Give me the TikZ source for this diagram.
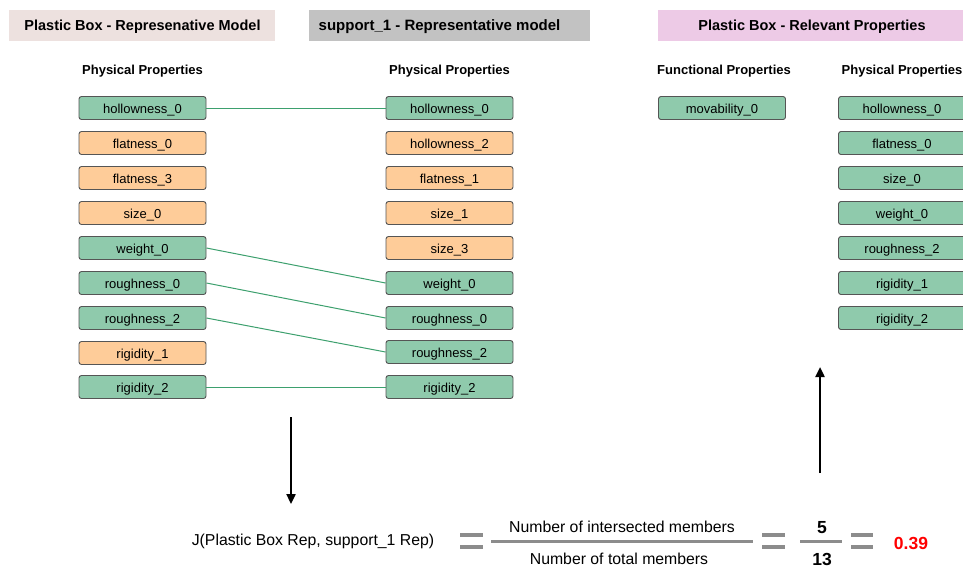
\documentclass[tikz,border=0pt]{standalone}
\usepackage{fontspec}
\setmainfont{Liberation Sans}
\usetikzlibrary{arrows.meta}
\definecolor{gfill}{HTML}{8FCAAC}
\definecolor{ofill}{HTML}{FECC99}
\definecolor{bord}{HTML}{555555}
\definecolor{link}{HTML}{3DA06E}
\definecolor{t1}{HTML}{EDE1DF}
\definecolor{t2}{HTML}{C2C2C2}
\definecolor{t3}{HTML}{EDCAE6}
\definecolor{eqc}{HTML}{8C8C8C}
\tikzset{
  prop/.style={draw=bord, line width=0.9pt, rounded corners=2.5pt, minimum width=127pt, minimum height=23pt, inner sep=0pt, text height=10pt, text depth=0pt, font=\fontsize{13}{15}\selectfont},
  gprop/.style={prop, fill=gfill},
  oprop/.style={prop, fill=ofill},
  titlebox/.style={minimum height=31pt, inner sep=0pt},
  ttl/.style={anchor=base, inner sep=0pt, font=\bfseries\fontsize{14.5}{16}\selectfont},
  hdr/.style={anchor=base, inner sep=0pt, font=\bfseries\fontsize{13}{15}\selectfont},
  lnk/.style={draw=link, line width=1pt},
  eqbar/.style={draw=eqc, line width=3.5pt},
  fracbar/.style={draw=eqc, line width=3pt},
  bigarrow/.style={draw=black, line width=2.3pt, -{Triangle[length=10pt,width=9pt]}},
  txt/.style={anchor=base, inner sep=0pt, font=\fontsize{15.8}{18}\selectfont},
  btxt/.style={anchor=base, inner sep=0pt, font=\bfseries\fontsize{17.5}{20}\selectfont}
}
\begin{document}
\begin{tikzpicture}[x=1pt,y=-1pt]
\clip (0,0) rectangle (963,568);
\fill[white] (0,0) rectangle (963,568);
% titles
\node[titlebox, fill=t1, minimum width=266pt] (T1) at (142,25.5) {};
\node[ttl] (T1t) at (142.5,30.5) {Plastic Box - Represenative Model};
\node[titlebox, fill=t2, minimum width=281pt] (T2) at (449.5,25.5) {};
\node[ttl, anchor=base west, font=\bfseries\fontsize{15}{17}\selectfont] (T2t) at (318.5,30.5) {support\_1 - Representative model};
\node[titlebox, fill=t3, minimum width=320pt] (T3) at (818,25.5) {};
\node[ttl] (T3t) at (812,30.5) {Plastic Box - Relevant Properties};
% headers
\node[hdr] (H1) at (142.5,74) {Physical Properties};
\node[hdr] (H2) at (449.5,74) {Physical Properties};
\node[hdr] (H3) at (724,74) {Functional Properties};
\node[hdr] (H4) at (902,74) {Physical Properties};
% left column
\node[gprop] (L1) at (142.5,108) {hollowness\_0};
\node[oprop] (L2) at (142.5,143) {flatness\_0};
\node[oprop] (L3) at (142.5,178) {flatness\_3};
\node[oprop] (L4) at (142.5,213) {size\_0};
\node[gprop] (L5) at (142.5,248) {weight\_0};
\node[gprop] (L6) at (142.5,283) {roughness\_0};
\node[gprop] (L7) at (142.5,318) {roughness\_2};
\node[oprop] (L8) at (142.5,353) {rigidity\_1};
\node[gprop] (L9) at (142.5,387) {rigidity\_2};
% middle column
\node[gprop] (M1) at (449.5,108) {hollowness\_0};
\node[oprop] (M2) at (449.5,143) {hollowness\_2};
\node[oprop] (M3) at (449.5,178) {flatness\_1};
\node[oprop] (M4) at (449.5,213) {size\_1};
\node[oprop] (M5) at (449.5,248) {size\_3};
\node[gprop] (M6) at (449.5,283) {weight\_0};
\node[gprop] (M7) at (449.5,318) {roughness\_0};
\node[gprop] (M8) at (449.5,352) {roughness\_2};
\node[gprop] (M9) at (449.5,387) {rigidity\_2};
% right
\node[gprop] (F1) at (722,108) {movability\_0};
\node[gprop] (R1) at (902,108) {hollowness\_0};
\node[gprop] (R2) at (902,143) {flatness\_0};
\node[gprop] (R3) at (902,178) {size\_0};
\node[gprop] (R4) at (902,213) {weight\_0};
\node[gprop] (R5) at (902,248) {roughness\_2};
\node[gprop] (R6) at (902,283) {rigidity\_1};
\node[gprop] (R7) at (902,318) {rigidity\_2};
% links
\draw[lnk] (L1.east) -- (M1.west);
\draw[lnk] (L5.east) -- (M6.west);
\draw[lnk] (L6.east) -- (M7.west);
\draw[lnk] (L7.east) -- (M8.west);
\draw[lnk] (L9.east) -- (M9.west);
% arrows
\coordinate (A1s) at (291,417);
\coordinate (A1e) at (291,504);
\draw[bigarrow] (A1s) -- (A1e);
\coordinate (A2s) at (820,473);
\coordinate (A2e) at (820,367);
\draw[bigarrow] (A2s) -- (A2e);
% formula
\node[txt] (J) at (313,545) {J(Plastic Box Rep, support\_1 Rep)};
\coordinate (E1a) at (460,535); \coordinate (E1b) at (483,535);
\coordinate (E1c) at (460,547); \coordinate (E1d) at (483,547);
\draw[eqbar] (E1a) -- (E1b); \draw[eqbar] (E1c) -- (E1d);
\coordinate (F1a) at (491,541); \coordinate (F1b) at (753,541);
\draw[fracbar] (F1a) -- (F1b);
\node[txt] (NUM) at (622,532) {Number of intersected members};
\node[txt] (DEN) at (619,564.5) {Number of total members};
\coordinate (E2a) at (762,535); \coordinate (E2b) at (785,535);
\coordinate (E2c) at (762,547); \coordinate (E2d) at (785,547);
\draw[eqbar] (E2a) -- (E2b); \draw[eqbar] (E2c) -- (E2d);
\coordinate (F2a) at (800,541); \coordinate (F2b) at (842,541);
\draw[fracbar] (F2a) -- (F2b);
\node[btxt] (N5) at (822,533) {5};
\node[btxt] (N13) at (822,565.5) {13};
\coordinate (E3a) at (851,535); \coordinate (E3b) at (873,535);
\coordinate (E3c) at (851,547); \coordinate (E3d) at (873,547);
\draw[eqbar] (E3a) -- (E3b); \draw[eqbar] (E3c) -- (E3d);
\node[btxt, text=red] (RES) at (911,549) {0.39};
\end{tikzpicture}
\end{document}
